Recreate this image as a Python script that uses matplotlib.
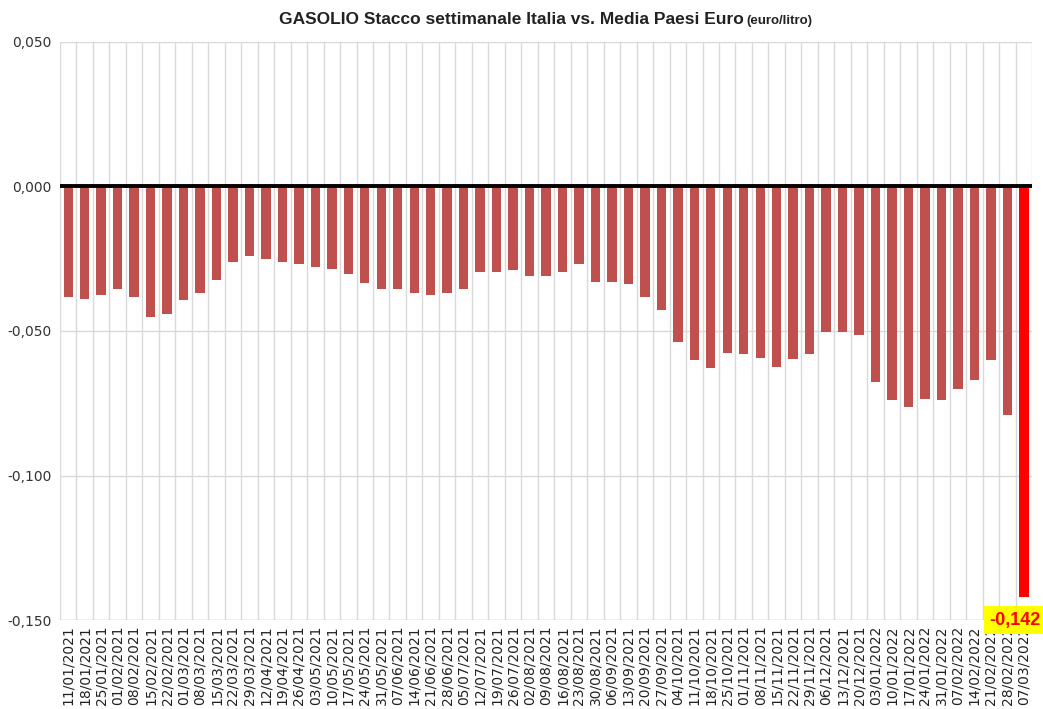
import matplotlib
matplotlib.use("Agg")
import matplotlib.pyplot as plt
from matplotlib.ticker import FuncFormatter, MultipleLocator

dates = ["11/01/2021", "18/01/2021", "25/01/2021", "01/02/2021", "08/02/2021", "15/02/2021",
         "22/02/2021", "01/03/2021", "08/03/2021", "15/03/2021", "22/03/2021", "29/03/2021",
         "12/04/2021", "19/04/2021", "26/04/2021", "03/05/2021", "10/05/2021", "17/05/2021",
         "24/05/2021", "31/05/2021", "07/06/2021", "14/06/2021", "21/06/2021", "28/06/2021",
         "05/07/2021", "12/07/2021", "19/07/2021", "26/07/2021", "02/08/2021", "09/08/2021",
         "16/08/2021", "23/08/2021", "30/08/2021", "06/09/2021", "13/09/2021", "20/09/2021",
         "27/09/2021", "04/10/2021", "11/10/2021", "18/10/2021", "25/10/2021", "01/11/2021",
         "08/11/2021", "15/11/2021", "22/11/2021", "29/11/2021", "06/12/2021", "13/12/2021",
         "20/12/2021", "03/01/2022", "10/01/2022", "17/01/2022", "24/01/2022", "31/01/2022",
         "07/02/2022", "14/02/2022", "21/02/2022", "28/02/2022", "07/03/2022"]

values = [-0.0383, -0.0389, -0.0377, -0.0356, -0.0381, -0.0452, -0.0441, -0.0392, -0.0369,
          -0.0325, -0.0260, -0.0242, -0.0252, -0.0260, -0.0269, -0.0278, -0.0284, -0.0302,
          -0.0333, -0.0356, -0.0356, -0.0367, -0.0375, -0.0367, -0.0354, -0.0296, -0.0296,
          -0.0289, -0.0308, -0.0308, -0.0296, -0.0268, -0.0332, -0.0332, -0.0338, -0.0384,
          -0.0426, -0.0539, -0.0602, -0.0628, -0.0577, -0.0581, -0.0593, -0.0623, -0.0596,
          -0.0581, -0.0503, -0.0505, -0.0513, -0.0678, -0.0740, -0.0764, -0.0735, -0.0740,
          -0.0702, -0.0670, -0.0599, -0.0790, -0.1420]

last_label = "-0,142"

fig = plt.figure(figsize=(10.43, 7.09), dpi=100)
ax = fig.add_axes([0.0575, 0.1255, 0.932, 0.8153])

n = len(values)
x = list(range(n))
colors = ["#C0504D"] * (n - 1) + ["#FF0000"]
ax.bar(x, values, width=0.57, color=colors, zorder=3)

ax.set_xlim(-0.5, n - 0.5)
ax.set_ylim(-0.150, 0.050)
ax.yaxis.set_major_locator(MultipleLocator(0.05))
ax.yaxis.set_major_formatter(FuncFormatter(lambda v, p: f"{v:.3f}".replace(".", ",").replace("-0,000", "0,000")))

ax.set_xticks(x)
ax.set_xticklabels(dates, rotation=90, fontsize=10, color="#222222")
ax.set_xticks([i - 0.5 for i in range(n + 1)], minor=True)
ax.tick_params(axis="x", which="both", length=0, pad=4)
ax.tick_params(axis="y", length=0, labelsize=10, colors="#333333", pad=6)

ax.grid(axis="x", which="minor", color="#D9D9D9", linewidth=1, zorder=0)
ax.grid(axis="y", which="major", color="#D9D9D9", linewidth=1, zorder=0)
ax.grid(axis="x", which="major", visible=False)

for s in ax.spines.values():
    s.set_visible(False)
ax.axhline(0, color="black", linewidth=2.8, zorder=4)
ax.axhline(-0.150, color="#D9D9D9", linewidth=1, zorder=1)

ax.text(n - 1 - 0.55, -0.150, last_label, ha="center", va="center", fontsize=13,
        family="Liberation Sans", fontweight="bold", color="#FF0000", clip_on=False, zorder=6,
        bbox=dict(boxstyle="square,pad=0.28", facecolor="#FFFF00", edgecolor="none"))

fig.text(0.713, 0.972, "GASOLIO Stacco settimanale Italia vs. Media Paesi Euro",
         ha="right", va="center", fontsize=12.5, family="Liberation Sans", fontweight="bold",
         color="#222222")
fig.text(0.716, 0.970, "(euro/litro)", ha="left", va="center", fontsize=9.5,
         family="Liberation Sans", fontweight="bold", color="#222222")

fig.savefig("out.png", dpi=100)
